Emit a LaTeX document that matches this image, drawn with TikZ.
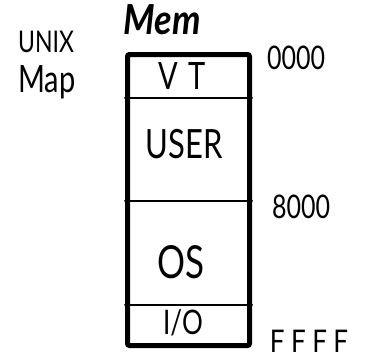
\documentclass[tikz,border=0pt]{standalone}
\usepackage{fontspec}
\usepackage{graphicx}
\setmainfont{Lato}
\newcommand{\tall}[2][1.3]{\scalebox{1}[#1]{#2}}
\tikzset{
  memline/.style={line width=2pt, line cap=round},
  label/.style={inner sep=0pt, anchor=center},
  addr/.style={label, font=\fontsize{25}{25}\selectfont}
}
\begin{document}
\begin{tikzpicture}[x=1pt, y=-1pt]
  \useasboundingbox (0,0) rectangle (367,360);

  % memory column
  \node[draw, line width=5pt, rounded corners=2pt, minimum width=122pt,
        minimum height=291pt, inner sep=0pt] (mem) at (188.5,200) {};

  % segment boundaries
  \coordinate (vtL) at (mem.west |- 0,98);
  \coordinate (vtR) at (mem.east |- 0,98);
  \coordinate (usL) at (mem.west |- 0,201);
  \coordinate (usR) at (mem.east |- 0,201);
  \coordinate (osL) at (mem.west |- 0,305);
  \coordinate (osR) at (mem.east |- 0,305);
  \draw[memline] (vtL) -- (vtR);
  \draw[memline] (usL) -- (usR);
  \draw[memline] (osL) -- (osR);

  % titles
  \node[label, font=\fontsize{36}{36}\selectfont\bfseries\itshape] (title) at (162,20) {\tall[1.15]{Mem}};
  \node[label, font=\fontsize{23}{23}\selectfont] (unix) at (46,42) {\tall{UNIX}};
  \node[label, font=\fontsize{29}{29}\selectfont] (map) at (47,82) {\tall{Map}};

  % segment names
  \node[label, font=\fontsize{29}{29}\selectfont] (vt) at (182,76) {\tall{V\,\,T}};
  \node[label, font=\fontsize{31}{31}\selectfont] (user) at (184,144) {\tall{USER}};
  \node[label, font=\fontsize{35}{35}\selectfont] (os) at (181,262) {\tall{OS}};
  \node[label, font=\fontsize{26}{26}\selectfont] (io) at (183,323) {\tall{I/O}};

  % addresses
  \node[addr] (a0) at (296,58) {\tall{0000}};
  \node[addr] (a8) at (301,207) {\tall{8000}};
  \node[addr, font=\fontsize{26}{26}\selectfont\addfontfeature{LetterSpace=25}] (af) at (309,341) {\tall[1.2]{FFFF}};
\end{tikzpicture}
\end{document}
